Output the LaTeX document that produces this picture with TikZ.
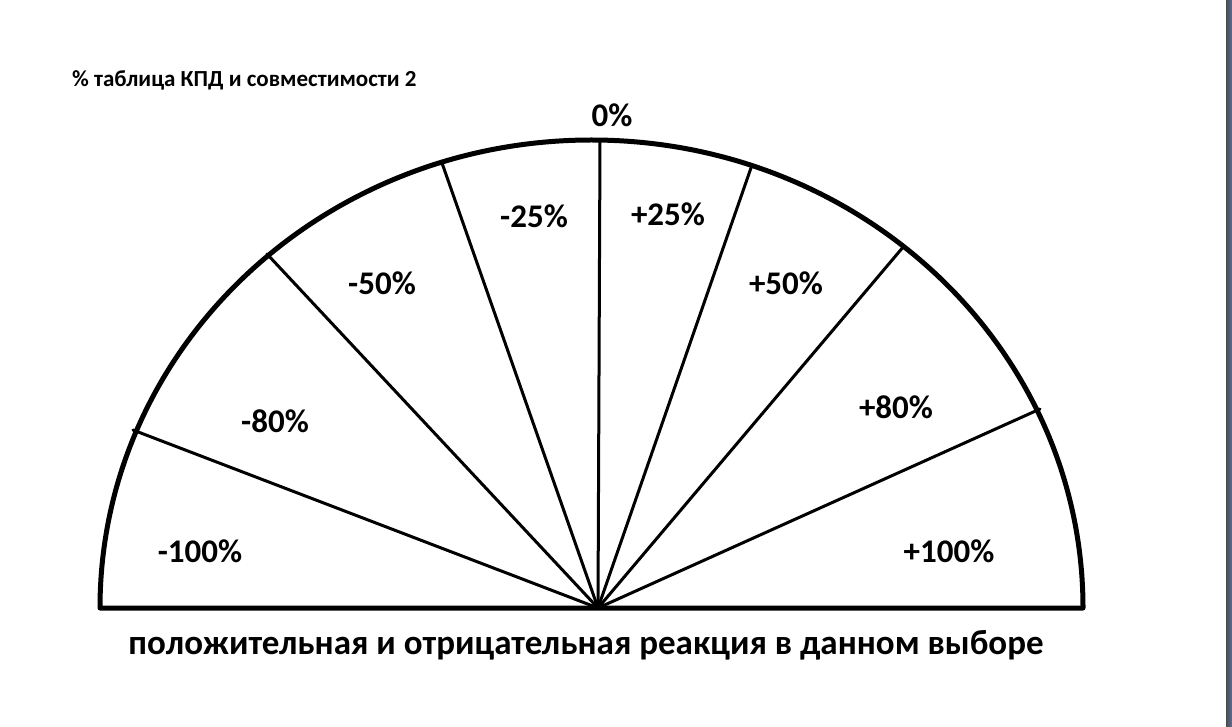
\documentclass[tikz,border=0pt]{standalone}
\usepackage{fontspec}
\setmainfont{Carlito}
\begin{document}
\begin{tikzpicture}[x=1pt,y=-1pt,
  lbl/.style={font=\bfseries\fontsize{33}{33}\selectfont, inner sep=0pt},
  ray/.style={line width=3pt, line cap=round},
  rim/.style={line width=5pt, line join=round}]
\useasboundingbox (0,0) rectangle (1232,727);
\fill[white] (0,0) rectangle (1232,727);
\shade[left color=black!70, right color={rgb,255:red,90;green,110;blue,150}] (1226,0) rectangle (1232,727);
% geometry
\coordinate (c) at (598,608);
\coordinate (r1) at (133,430);
\coordinate (r2) at (267,254);
\coordinate (r3) at (442,163);
\coordinate (r4) at (600,140);
\coordinate (r5) at (752,165);
\coordinate (r6) at (904,246);
\coordinate (r7) at (1040,409);
\coordinate (bl) at (100,608);
\coordinate (br) at (1083,608);
% rim
\draw[rim] (bl) arc[start angle=180, end angle=0, x radius=491.5, y radius=-468] -- cycle;
% rays
\foreach \i in {1,...,7} \draw[ray] (c) -- (r\i);
% labels
\node[lbl] (m100) at (200,551) {-100\%};
\node[lbl] (m80) at (275,421) {-80\%};
\node[lbl] (m50) at (382,283) {-50\%};
\node[lbl] (m25) at (534,216) {-25\%};
\node[lbl] (z) at (612,115) {0\%};
\node[lbl] (p25) at (668,214) {+25\%};
\node[lbl] (p50) at (786,283) {+50\%};
\node[lbl] (p80) at (896,407) {+80\%};
\node[lbl] (p100) at (949,551) {+100\%};
\node[lbl, font=\bfseries\fontsize{35}{35}\selectfont] (cap) at (586,645) {положительная и отрицательная реакция в данном выборе};
\node[font=\bfseries\fontsize{23}{23}\selectfont, inner sep=0pt, anchor=west] (title) at (72,80) {\% таблица КПД и совместимости 2};
\end{tikzpicture}
\end{document}
